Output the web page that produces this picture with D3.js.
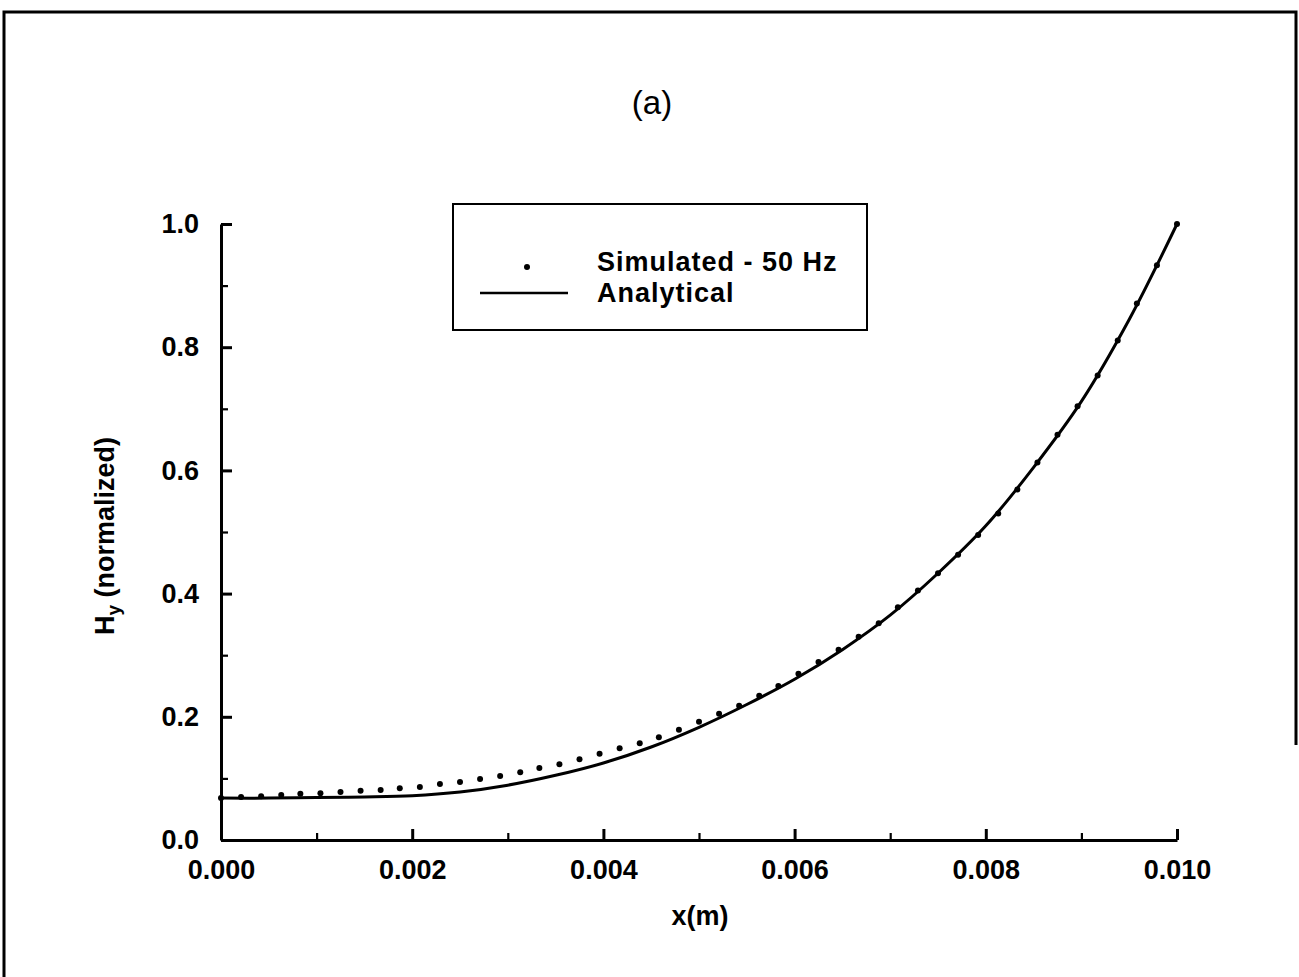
<!DOCTYPE html>
<html>
<head>
<meta charset="utf-8">
<script src="https://cdn.jsdelivr.net/npm/d3@7"></script>
<style>
  html, body { margin: 0; padding: 0; background: #fff; }
  svg { display: block; }
  text { font-family: "Liberation Sans", Arial, Helvetica, sans-serif; fill: #000; }
</style>
</head>
<body>
<svg id="chart" width="1299" height="977"></svg>
<script>
// analytical solution
const analyticX = [0, 0.0005, 0.001, 0.0015, 0.002, 0.0025, 0.003, 0.0035, 0.004, 0.0045, 0.005,
  0.0055, 0.006, 0.0065, 0.007, 0.0075, 0.008, 0.0085, 0.009, 0.0095, 0.010];
const analyticY = [0.068, 0.068, 0.069, 0.070, 0.072, 0.078, 0.089, 0.105, 0.125, 0.151, 0.183,
  0.220, 0.261, 0.309, 0.365, 0.433, 0.510, 0.605, 0.712, 0.845, 1.000];

// simulated points (50 Hz)
const simX = [0, 0.00021, 0.00042, 0.00063, 0.00083, 0.00104, 0.00125, 0.00146, 0.00167, 0.00187,
  0.00208, 0.00229, 0.00250, 0.00271, 0.00292, 0.00313, 0.00333, 0.00354, 0.00375, 0.00396,
  0.00417, 0.00438, 0.00458, 0.00479, 0.00500, 0.00521, 0.00542, 0.00563, 0.00583, 0.00604,
  0.00625, 0.00646, 0.00667, 0.00688, 0.00708, 0.00729, 0.00750, 0.00771, 0.00792, 0.00813,
  0.00833, 0.00854, 0.00875, 0.00896, 0.00917, 0.00938, 0.00958, 0.00979, 0.01000];
const simY = [0.068, 0.070, 0.071, 0.073, 0.075, 0.076, 0.078, 0.080, 0.081, 0.084,
  0.086, 0.091, 0.094, 0.099, 0.104, 0.110, 0.117, 0.123, 0.131, 0.140,
  0.149, 0.157, 0.167, 0.179, 0.192, 0.205, 0.218, 0.234, 0.250, 0.270,
  0.289, 0.309, 0.330, 0.352, 0.378, 0.405, 0.433, 0.463, 0.495, 0.530,
  0.569, 0.613, 0.658, 0.704, 0.754, 0.811, 0.871, 0.933, 1.000];

const xTicks = [0, 0.002, 0.004, 0.006, 0.008, 0.010];
const xMinor = [0.001, 0.003, 0.005, 0.007, 0.009];
const yTicks = [0, 0.2, 0.4, 0.6, 0.8, 1.0];
const yMinor = [0.1, 0.3, 0.5, 0.7, 0.9];

const svg = d3.select('#chart');

// scanned page frame
svg.append('path')
  .attr('d', 'M4,977 L4,12 L1296,12 L1296,745')
  .attr('fill', 'none')
  .attr('stroke', '#000')
  .attr('stroke-width', 3);

const x = d3.scaleLinear().domain([0, 0.010]).range([221, 1177]);
const y = d3.scaleLinear().domain([0, 1.0]).range([840, 224]);

// x axis
const xAxis = svg.append('g')
  .attr('transform', `translate(0,${y(0)})`)
  .call(d3.axisBottom(x).tickValues(xTicks).tickFormat(d3.format('.3f'))
    .tickSizeInner(-11).tickSizeOuter(0).tickPadding(20));
const xMinorAxis = svg.append('g')
  .attr('transform', `translate(0,${y(0)})`)
  .call(d3.axisBottom(x).tickValues(xMinor).tickFormat('').tickSizeInner(-7).tickSizeOuter(0))
  .call(g => g.select('.domain').remove());

// y axis
const yAxis = svg.append('g')
  .attr('transform', `translate(${x(0)},0)`)
  .call(d3.axisLeft(y).tickValues(yTicks).tickFormat(d3.format('.1f'))
    .tickSizeInner(-11).tickSizeOuter(0).tickPadding(22));
const yMinorAxis = svg.append('g')
  .attr('transform', `translate(${x(0)},0)`)
  .call(d3.axisLeft(y).tickValues(yMinor).tickFormat('').tickSizeInner(-7).tickSizeOuter(0))
  .call(g => g.select('.domain').remove());

svg.selectAll('.domain, .tick line')
  .attr('stroke', '#000')
  .attr('stroke-width', 3);
xMinorAxis.selectAll('.tick line').attr('stroke-width', 2.2);
yMinorAxis.selectAll('.tick line').attr('stroke-width', 2.2);

xAxis.selectAll('.tick text')
  .style('font-size', '27px')
  .style('font-weight', 'bold');
yAxis.selectAll('.tick text')
  .style('font-size', '27px')
  .style('font-weight', 'bold');

// analytical curve
const line = d3.line()
  .x((d, i) => x(analyticX[i]))
  .y(d => y(d))
  .curve(d3.curveCatmullRom.alpha(0.5));

svg.append('path')
  .datum(analyticY)
  .attr('d', line)
  .attr('fill', 'none')
  .attr('stroke', '#000')
  .attr('stroke-width', 3);

// simulated dots
svg.append('g')
  .selectAll('circle')
  .data(simY)
  .enter().append('circle')
  .attr('cx', (d, i) => x(simX[i]))
  .attr('cy', d => y(d))
  .attr('r', 3)
  .attr('fill', '#000');

// titles
svg.append('text')
  .attr('x', 652).attr('y', 114)
  .attr('text-anchor', 'middle')
  .style('font-size', '33px')
  .text('(a)');

svg.append('text')
  .attr('x', 700).attr('y', 925)
  .attr('text-anchor', 'middle')
  .style('font-size', '27px')
  .style('font-weight', 'bold')
  .text('x(m)');

const yTitle = svg.append('text')
  .attr('transform', 'translate(114,536) rotate(-90)')
  .attr('text-anchor', 'middle')
  .style('font-size', '27px')
  .style('font-weight', 'bold');
yTitle.append('tspan').text('H');
yTitle.append('tspan').attr('dy', 6).style('font-size', '19px').text('y');
yTitle.append('tspan').attr('dy', -6).text(' (normalized)');

// legend
const legend = svg.append('g');
legend.append('rect')
  .attr('x', 453).attr('y', 204)
  .attr('width', 414).attr('height', 126)
  .attr('fill', '#fff')
  .attr('stroke', '#000')
  .attr('stroke-width', 2);
legend.append('circle')
  .attr('cx', 527).attr('cy', 267).attr('r', 3)
  .attr('fill', '#000');
legend.append('line')
  .attr('x1', 480).attr('x2', 568)
  .attr('y1', 293).attr('y2', 293)
  .attr('stroke', '#000')
  .attr('stroke-width', 2.5);
legend.append('text')
  .attr('x', 597).attr('y', 271)
  .style('font-size', '27px')
  .style('font-weight', 'bold')
  .style('letter-spacing', '1px')
  .text('Simulated - 50 Hz');
legend.append('text')
  .attr('x', 597).attr('y', 302)
  .style('font-size', '27px')
  .style('font-weight', 'bold')
  .style('letter-spacing', '1px')
  .text('Analytical');
</script>
</body>
</html>
